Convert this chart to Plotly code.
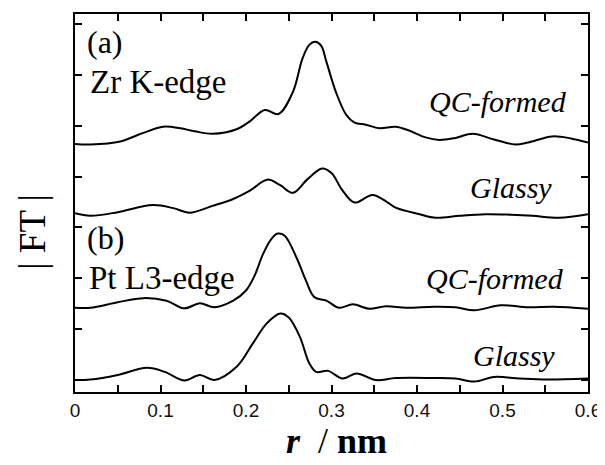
import plotly.graph_objects as go

# ---------------- data (offset |FT| curves, arbitrary units) ----------------
r_zr_qc = [0.000, 0.018, 0.053, 0.080, 0.103, 0.123, 0.140, 0.161, 0.189, 0.204,
           0.222, 0.238, 0.255, 0.266, 0.274, 0.281, 0.288, 0.294, 0.305, 0.317,
           0.327, 0.340, 0.356, 0.375, 0.390, 0.410, 0.426, 0.445, 0.465, 0.490,
           0.515, 0.530, 0.558, 0.580, 0.600]
ft_zr_qc = [4.64, 4.63, 4.69, 4.86, 4.98, 4.95, 4.89, 4.84, 4.93, 5.08,
            5.31, 5.23, 5.67, 6.32, 6.59, 6.65, 6.57, 6.26, 5.67, 5.22,
            5.06, 5.02, 4.95, 4.98, 4.91, 4.77, 4.72, 4.76, 4.84, 4.73,
            4.63, 4.67, 4.79, 4.75, 4.67]

r_zr_gl = [0.000, 0.018, 0.050, 0.091, 0.115, 0.134, 0.160, 0.185, 0.205, 0.225,
           0.240, 0.255, 0.272, 0.289, 0.300, 0.312, 0.327, 0.348, 0.365, 0.375,
           0.403, 0.422, 0.450, 0.480, 0.510, 0.535, 0.566, 0.600]
ft_zr_gl = [3.28, 3.23, 3.30, 3.44, 3.38, 3.29, 3.42, 3.56, 3.73, 3.94,
            3.83, 3.68, 3.95, 4.16, 4.07, 3.75, 3.49, 3.64, 3.50, 3.39,
            3.26, 3.19, 3.23, 3.26, 3.25, 3.23, 3.19, 3.26]

r_pt_qc = [0.000, 0.018, 0.050, 0.080, 0.107, 0.128, 0.146, 0.163, 0.185, 0.200,
           0.210, 0.220, 0.230, 0.237, 0.245, 0.259, 0.270, 0.280, 0.294, 0.309,
           0.325, 0.344, 0.364, 0.387, 0.420, 0.445, 0.467, 0.498, 0.530, 0.560,
           0.600]
ft_pt_qc = [1.42, 1.42, 1.53, 1.61, 1.56, 1.41, 1.51, 1.43, 1.56, 1.76,
            2.05, 2.48, 2.78, 2.88, 2.84, 2.41, 1.96, 1.63, 1.56, 1.42,
            1.49, 1.40, 1.45, 1.42, 1.44, 1.43, 1.37, 1.47, 1.43, 1.44,
            1.40]

r_pt_gl = [0.000, 0.018, 0.050, 0.084, 0.105, 0.128, 0.146, 0.163, 0.189, 0.208,
           0.224, 0.240, 0.250, 0.263, 0.274, 0.282, 0.296, 0.313, 0.329, 0.352,
           0.375, 0.420, 0.445, 0.467, 0.490, 0.520, 0.552, 0.600]
ft_pt_gl = [0.00, 0.01, 0.10, 0.24, 0.16, -0.01, 0.10, 0.00, 0.26, 0.72,
            1.11, 1.31, 1.23, 0.85, 0.33, 0.16, 0.18, 0.03, 0.13, 0.00,
            0.04, 0.04, 0.03, -0.03, 0.06, 0.03, 0.01, 0.03]

x_ticks = [0, 0.1, 0.2, 0.3, 0.4, 0.5, 0.6]
x_tick_labels = ["0", "0.1", "0.2", "0.3", "0.4", "0.5", "0.6"]
y_ticks = [0, 1, 2, 3, 4, 5, 6, 7]

# ---------------- figure ----------------
fig = go.Figure()
for xs, ys in [(r_zr_qc, ft_zr_qc), (r_zr_gl, ft_zr_gl),
               (r_pt_qc, ft_pt_qc), (r_pt_gl, ft_pt_gl)]:
    fig.add_trace(go.Scatter(x=xs, y=ys, mode="lines",
                             line=dict(color="black", width=2, shape="spline", smoothing=1.0),
                             hoverinfo="skip", showlegend=False))

serif = "Liberation Serif, Times New Roman, serif"
sans = "Liberation Sans, Arial, sans-serif"

annots = [
    dict(text="(a)", x=0.012, y=6.65, xanchor="left", size=32, italic=False),
    dict(text="Zr K-edge", x=0.015, y=5.85, xanchor="left", size=33, italic=False),
    dict(text="(b)", x=0.012, y=2.80, xanchor="left", size=32, italic=False),
    dict(text="Pt L3-edge", x=0.014, y=2.0, xanchor="left", size=33, italic=False),
    dict(text="QC-formed", x=0.578, y=5.48, xanchor="right", size=30, italic=True),
    dict(text="Glassy", x=0.560, y=3.79, xanchor="right", size=30, italic=True),
    dict(text="QC-formed", x=0.574, y=2.00, xanchor="right", size=30, italic=True),
    dict(text="Glassy", x=0.564, y=0.48, xanchor="right", size=30, italic=True),
]
for a in annots:
    t = f"<i>{a['text']}</i>" if a["italic"] else a["text"]
    fig.add_annotation(x=a["x"], y=a["y"], xref="x", yref="y", text=t,
                       xanchor=a["xanchor"], yanchor="middle", showarrow=False,
                       font=dict(family=serif, size=a["size"], color="black"))

# axis titles
fig.add_annotation(x=-0.0817, y=0.424, xref="paper", yref="paper",
                   text="| FT |", textangle=-90, showarrow=False,
                   xanchor="center", yanchor="middle",
                   font=dict(family=serif, size=37, color="black"))
fig.add_annotation(x=0.51, y=-0.188, xref="paper", yref="paper",
                   text="<b><i>r</i></b>  / <b>nm</b>", showarrow=False,
                   xanchor="center", yanchor="bottom",
                   font=dict(family=serif, size=36, color="black"))

fig.update_xaxes(range=[0, 0.6], tickvals=x_ticks, ticktext=x_tick_labels,
                 ticks="inside", ticklen=7, tickwidth=2, tickcolor="black",
                 showline=True, linecolor="black", linewidth=2, mirror="ticks",
                 showgrid=False, zeroline=False,
                 tickfont=dict(family=sans, size=19, color="#111"),
                 minor=dict(dtick=0.05, ticks="inside", ticklen=7, tickwidth=2,
                            tickcolor="black", showgrid=False))
fig.update_yaxes(range=[-0.235, 7.196], tickvals=y_ticks, showticklabels=False,
                 ticks="inside", ticklen=7, tickwidth=2, tickcolor="black",
                 showline=True, linecolor="black", linewidth=2, mirror="ticks",
                 showgrid=False, zeroline=False)

# page body adds an 8px offset, so the figure is sized to fit the window
fig.update_layout(width=597, height=457,
                  margin=dict(l=67, r=16, t=4, b=73),
                  paper_bgcolor="white", plot_bgcolor="white")

fig.write_html("out.html")
